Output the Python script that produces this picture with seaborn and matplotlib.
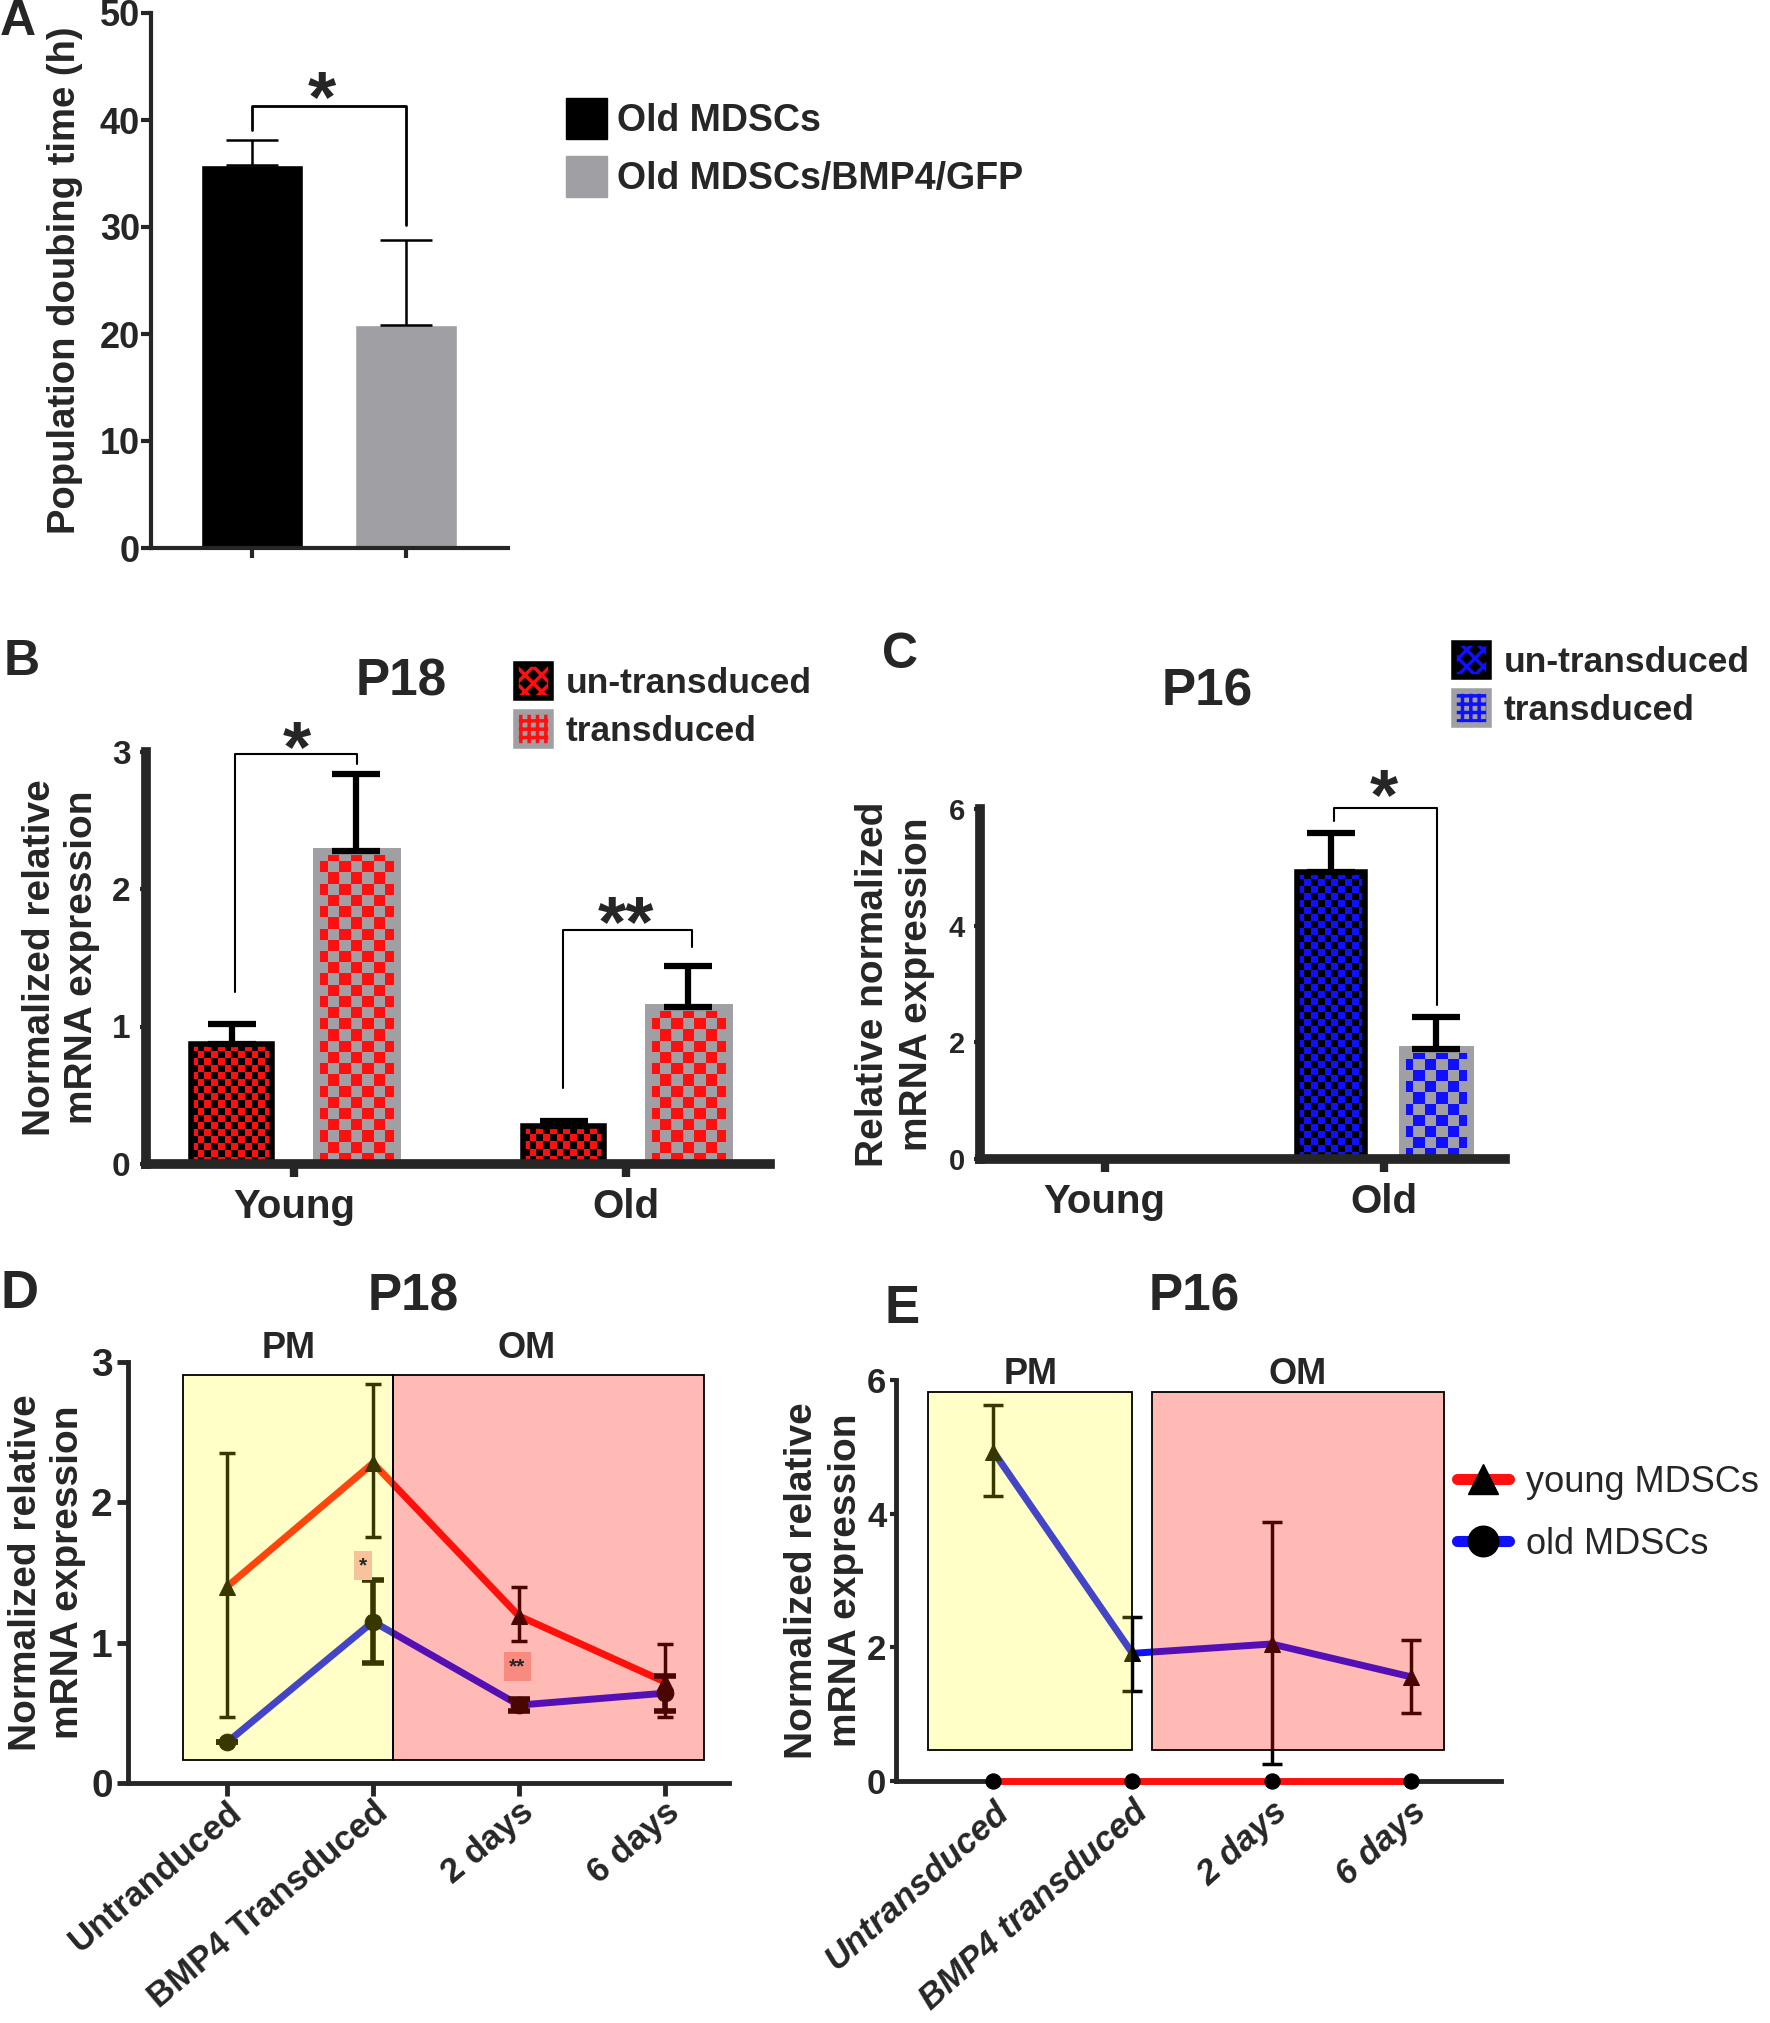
import numpy as np
import pandas as pd
import matplotlib
matplotlib.use("Agg")
import matplotlib.pyplot as plt
import seaborn as sns
from matplotlib.colors import ListedColormap
from matplotlib.patches import Patch, Rectangle
from matplotlib.lines import Line2D

sns.set_theme(style="ticks")
ARIAL = ["Liberation Sans", "DejaVu Sans"]
plt.rcParams["font.family"] = ARIAL
plt.rcParams["axes.linewidth"] = 3
plt.rcParams["hatch.linewidth"] = 2.5

# ---- data ----
# A: population doubling time (h)
a_groups = ["Old MDSCs", "Old MDSCs/BMP4/GFP"]
a_time = [35.8, 20.8]
a_err = [2.3, 8.0]

# B / C: BMP4 expression, young vs old
ages = ["Young", "Old"]
conds = ["un-transduced", "transduced"]
b_untrans = [0.87, 0.275]
b_trans = [2.28, 1.14]
b_untrans_err = [0.15, 0.04]
b_trans_err = [0.56, 0.30]
c_untrans = [0.0, 4.92]
c_trans = [0.0, 1.89]
c_untrans_err = [0.0, 0.67]
c_trans_err = [0.0, 0.55]

# D / E: time course
d_steps = ["Untranduced", "BMP4 Transduced", "2 days", "6 days"]
e_steps = ["Untransduced", "BMP4 transduced", "2 days", "6 days"]
d_young = [1.40, 2.28, 1.19, 0.72]
d_young_lo = [0.47, 1.75, 1.01, 0.47]
d_young_hi = [2.35, 2.84, 1.40, 0.99]
d_old = [0.29, 1.15, 0.555, 0.64]
d_old_lo = [0.29, 0.855, 0.51, 0.51]
d_old_hi = [0.29, 1.45, 0.60, 0.76]
e_young = [0.0, 0.0, 0.0, 0.0]
e_old = [4.93, 1.91, 2.05, 1.56]
e_old_lo = [4.27, 1.35, 0.25, 1.02]
e_old_hi = [5.63, 2.45, 3.87, 2.11]

GREY = "#a0a0a4"
RED = "#ff1010"
BLUE = "#1010ff"

W, H = 1770, 2023
fig = plt.figure(figsize=(W / 100, H / 100), dpi=100)


def box(l, t, r, b):
    return [l / W, 1 - b / H, (r - l) / W, (b - t) / H]


def fx(x):
    return x / W


def fy(y):
    return 1 - y / H


def checker(ax, p, c1, c2, cell):
    x0, y0, w, h = p.get_x(), p.get_y(), p.get_width(), p.get_height()
    if h <= 0:
        return
    (a0, b0), (a1, b1) = ax.transData.transform([(x0, y0), (x0 + w, y0 + h)])
    nx = max(1, int(round(abs(a1 - a0) / cell)))
    ny = max(1, int(round(abs(b1 - b0) / cell)))
    cells = np.indices((ny, nx)).sum(axis=0) % 2
    im = ax.imshow(cells, extent=(x0, x0 + w, y0, y0 + h), origin="lower",
                   cmap=ListedColormap([c1, c2]), interpolation="nearest",
                   aspect="auto", zorder=p.get_zorder() - 0.05)
    im.set_clip_path(p)


def star(ax, x, y, label, size):
    # put the visual centre of the asterisk glyph at (x, y)
    ax.annotate(label, (x, y), xytext=(0, -0.5 * size), textcoords="offset points",
                ha="center", va="baseline", fontsize=size, fontweight="bold",
                family=ARIAL, annotation_clip=False)


def bracket(ax, x1, x2, top, lo1, lo2, label, sx, sy, size=52, lw=1.5):
    ax.plot([x1, x1, x2, x2], [lo1, top, top, lo2], color="black", lw=lw, clip_on=False)
    star(ax, sx, sy, label, size)


def panel_letter(x, y, s, size=36):
    fig.text(fx(x), fy(y), s, ha="center", va="center", fontsize=size, fontweight="bold", family=ARIAL)


def title(x, y, s, size=37):
    fig.text(fx(x), fy(y), s, ha="center", va="center", fontsize=size, fontweight="bold", family=ARIAL)


# ================= A =================
axA = fig.add_axes(box(151, 13, 508, 548))
dfA = pd.DataFrame({"group": a_groups, "time": a_time})
sns.barplot(data=dfA, x="group", y="time", hue="group", palette=["black", GREY],
            width=0.66, errorbar=None, legend=False, saturation=1, ax=axA)
for p, e in zip(axA.patches, a_err):
    axA.errorbar(p.get_x() + p.get_width() / 2, p.get_height(), yerr=[[0], [e]],
                 fmt="none", ecolor="black", elinewidth=1.8, capsize=19, capthick=1.8)
axA.set_xlim(-0.656, 1.66)
axA.set_ylim(0, 50)
axA.set_yticks(range(0, 51, 10))
axA.set_xticks([0, 1])
axA.set_xticklabels(["", ""])
axA.set_xlabel("")
axA.set_ylabel("Population doubing time (h)", fontsize=27.5, fontweight="bold", family=ARIAL)
axA.yaxis.set_label_coords(-0.19, 0.5)
axA.tick_params(axis="y", length=7, width=3, pad=1, labelsize=26)
axA.tick_params(axis="x", length=7, width=3)
for t in axA.get_yticklabels():
    t.set_fontweight("bold")
sns.despine(ax=axA)
bracket(axA, 0, 1, 41.3, 39.1, 30.2, "*", 0.45, 43.3, lw=2)
panel_letter(18, 22, "A")
fig.legend([Patch(facecolor="black", edgecolor="black"), Patch(facecolor=GREY, edgecolor=GREY)],
           a_groups, loc="upper left", bbox_to_anchor=(fx(566), fy(98)), frameon=False,
           prop=dict(weight="bold", size=27), handlelength=1.1, handleheight=1.3,
           handletextpad=0.25, labelspacing=0.45, borderpad=0, borderaxespad=0)


# ================= B and C =================
def expr_panel(rect, untrans, trans, untrans_err, trans_err, ylim, yticks, color, ylabel, lab_x, lspace, ytick_size):
    ax = fig.add_axes(rect)
    df = pd.DataFrame({"age": ages * 2, "cond": np.repeat(conds, 2), "expr": untrans + trans})
    sns.barplot(data=df, x="age", y="expr", hue="cond", palette=["black", GREY],
                width=0.75, gap=0.35, errorbar=None, legend=False, saturation=1, ax=ax)
    ax.set_xlim(-0.446, 1.434)
    ax.set_ylim(*ylim)
    errs = untrans_err + trans_err
    for i, (p, e) in enumerate(zip(ax.patches, errs)):
        if p.get_height() <= 0:
            p.set_visible(False)
            continue
        p.set_facecolor("none")
        if i < 2:
            p.set_edgecolor("black")
            p.set_linewidth(4)
            checker(ax, p, color, "black", 7)
        else:
            p.set_edgecolor(GREY)
            p.set_linewidth(5)
            checker(ax, p, color, GREY, 11)
        ax.errorbar(p.get_x() + p.get_width() / 2, p.get_height(), yerr=[[0], [e]],
                    fmt="none", ecolor="black", elinewidth=4.5, capsize=17, capthick=4.5, zorder=3)
    ax.set_xlim(-0.446, 1.434)
    ax.set_ylim(*ylim)
    ax.set_yticks(yticks)
    ax.set_xlabel("")
    ax.set_ylabel(ylabel, fontsize=28, fontweight="bold", family=ARIAL, linespacing=lspace)
    ax.yaxis.set_label_coords(lab_x, 0.5)
    ax.tick_params(axis="x", length=9, width=6, pad=8, labelsize=29)
    ax.tick_params(axis="y", length=4, width=3, pad=7, labelsize=ytick_size)
    for t in ax.get_xticklabels() + ax.get_yticklabels():
        t.set_fontweight("bold")
    for s in ["left", "bottom"]:
        ax.spines[s].set_linewidth(7)
    sns.despine(ax=ax)
    return ax


def bar_legend(x, y, color, size):
    hs = [(Patch(facecolor="black", edgecolor=color, hatch="xx", lw=0),
           Patch(facecolor="none", edgecolor="black", lw=4)),
          (Patch(facecolor=GREY, edgecolor=color, hatch="++", lw=0),
           Patch(facecolor="none", edgecolor=GREY, lw=4))]
    fig.legend(hs, conds, loc="upper left", bbox_to_anchor=(fx(x), fy(y)), frameon=False,
               prop=dict(weight="bold", size=size), handlelength=1.0, handleheight=1.1,
               handletextpad=0.4, labelspacing=0.35, borderpad=0, borderaxespad=0)


axB = expr_panel(box(146, 751.5, 770, 1164), b_untrans, b_trans, b_untrans_err, b_trans_err,
                 (0, 3), [0, 1, 2, 3], RED, "Normalized relative\nmRNA expression", -0.074, 1.2, 24)
bracket(axB, -0.178, 0.19, 2.98, 1.25, 2.91, "*", 0.01, 3.12)
bracket(axB, 0.81, 1.20, 1.70, 0.55, 1.58, "**", 1.0, 1.85)
panel_letter(22, 662, "B")
title(401, 682, "P18")
bar_legend(516, 664, RED, 25.5)

axC = expr_panel(box(980, 809, 1505, 1159), c_untrans, c_trans, c_untrans_err, c_trans_err,
                 (0, 6), [0, 2, 4, 6], BLUE, "Relative normalized\nmRNA expression", -0.085, 1.3, 21)
bracket(axC, 0.82, 1.19, 6.02, 5.8, 2.64, "*", 1.0, 6.45)
panel_letter(900, 655, "C")
title(1207, 692, "P16")
bar_legend(1454, 643, BLUE, 25.5)


# ================= D and E =================
def course_panel(rect, steps, young, old, marks, ylim, yticks, boxes, boxes_y, phase_y, om_x, ylabel_x, lspace):
    ax = fig.add_axes(rect)
    df = pd.DataFrame({"step": np.tile(np.arange(len(steps)), 2), "expr": young + old,
                       "group": ["young MDSCs"] * len(young) + ["old MDSCs"] * len(old)})
    sns.lineplot(data=df, x="step", y="expr", hue="group", style="group", markers=marks,
                 dashes=False, palette={"young MDSCs": RED, "old MDSCs": BLUE}, linewidth=5, markersize=12,
                 markerfacecolor="black", markeredgecolor="black", legend=False, ax=ax)
    for ln in ax.lines:
        ln.set_clip_on(False)
    ax.set_ylim(*ylim)
    ax.set_yticks(yticks)
    ax.set_xticks(range(len(steps)))
    ax.set_xlabel("")
    ax.set_ylabel("Normalized relative\nmRNA expression", fontsize=28, fontweight="bold",
                  family=ARIAL, linespacing=lspace)
    ax.yaxis.set_label_coords(ylabel_x, 0.5)
    for (x0, x1, fc) in boxes:
        ax.add_patch(Rectangle((x0, boxes_y[0]), x1 - x0, boxes_y[1] - boxes_y[0],
                               facecolor=fc, edgecolor="black", lw=1.3, zorder=4))
    ax.text((boxes[0][0] + boxes[0][1]) / 2, phase_y, "PM", ha="center", va="bottom",
            fontsize=26, fontweight="bold", family=ARIAL, clip_on=False)
    ax.text(om_x, phase_y, "OM", ha="center", va="bottom",
            fontsize=26, fontweight="bold", family=ARIAL, clip_on=False)
    for s in ["left", "bottom"]:
        ax.spines[s].set_linewidth(3.5)
    sns.despine(ax=ax)
    return ax


YELLOW_T = (1.0, 1.0, 0.0, 0.22)
PINK_T = (1.0, 0.07, 0.0, 0.29)
xs = np.arange(4)

axD = course_panel(box(128, 1362, 729, 1783), d_steps, d_young, d_old,
                   {"young MDSCs": "^", "old MDSCs": "o"}, (0, 3), [0, 1, 2, 3],
                   [(-0.30, 1.14, YELLOW_T), (1.14, 3.27, PINK_T)], (0.164, 2.91),
                   2.97, 2.05, -0.07, 1.2)
axD.set_xlim(-0.68, 3.44)
axD.errorbar(xs, d_young, yerr=[np.subtract(d_young, d_young_lo), np.subtract(d_young_hi, d_young)],
             fmt="none", ecolor="black", elinewidth=2.5, capsize=6, capthick=2.5, zorder=3)
axD.errorbar(xs, d_old, yerr=[np.subtract(d_old, d_old_lo), np.subtract(d_old_hi, d_old)],
             fmt="none", ecolor="black", elinewidth=4, capsize=8, capthick=4, zorder=3)
axD.text(0.93, 1.55, "*", ha="center", va="center", fontsize=15, fontweight="bold", zorder=6,
         bbox=dict(boxstyle="square,pad=0.25", facecolor="#f8c29a", edgecolor="none"))
axD.text(1.99, 0.83, "**", ha="center", va="center", fontsize=15, fontweight="bold", zorder=6,
         bbox=dict(boxstyle="square,pad=0.25", facecolor="#f98a80", edgecolor="none"))
axD.set_xticklabels(d_steps, rotation=40, ha="right", va="top", rotation_mode="anchor",
                    fontsize=25, fontweight="bold", family=ARIAL)
axD.tick_params(axis="x", length=9, width=3.5, pad=0)
axD.tick_params(axis="y", length=8, width=3.5, pad=3, labelsize=28)
for t in axD.get_yticklabels():
    t.set_fontweight("bold")
panel_letter(20, 1294, "D", 38)
title(413, 1297, "P18")

axE = course_panel(box(896, 1380, 1501, 1781), e_steps, e_young, e_old,
                   {"young MDSCs": "o", "old MDSCs": "^"}, (0, 6), [0, 2, 4, 6],
                   [(-0.47, 1.0, YELLOW_T), (1.14, 3.24, PINK_T)], (0.46, 5.82),
                   5.82, 2.19, -0.053, 1.3)
axE.set_xlim(-0.70, 3.65)
for ln in axE.lines:
    if ln.get_marker() == "o":
        ln.set_zorder(5)
        ln.set_markersize(11)
axE.errorbar(xs, e_old, yerr=[np.subtract(e_old, e_old_lo), np.subtract(e_old_hi, e_old)],
             fmt="none", ecolor="black", elinewidth=2.5, capsize=7, capthick=2.5, zorder=3)
axE.set_xticklabels(e_steps, rotation=42, ha="right", va="top", rotation_mode="anchor",
                    fontsize=25, fontweight="bold", fontstyle="italic", family=ARIAL)
axE.tick_params(axis="x", length=0, pad=10)
axE.tick_params(axis="y", length=4, width=3, pad=3, labelsize=25)
for t in axE.get_yticklabels():
    t.set_fontweight("bold")
panel_letter(902, 1309, "E", 38)
title(1194, 1297, "P16")
fig.legend([Line2D([0], [0], color=RED, lw=8, marker="^", ms=22, mfc="black", mec="black", solid_capstyle="round"),
            Line2D([0], [0], color=BLUE, lw=8, marker="o", ms=22, mfc="black", mec="black", solid_capstyle="round")],
           ["young MDSCs", "old MDSCs"], loc="upper left", bbox_to_anchor=(fx(1457), fy(1465)), frameon=False,
           prop=dict(size=26), handlelength=1.45, handletextpad=0.45, labelspacing=0.75,
           borderpad=0, borderaxespad=0)

fig.savefig("out.png", dpi=100)
